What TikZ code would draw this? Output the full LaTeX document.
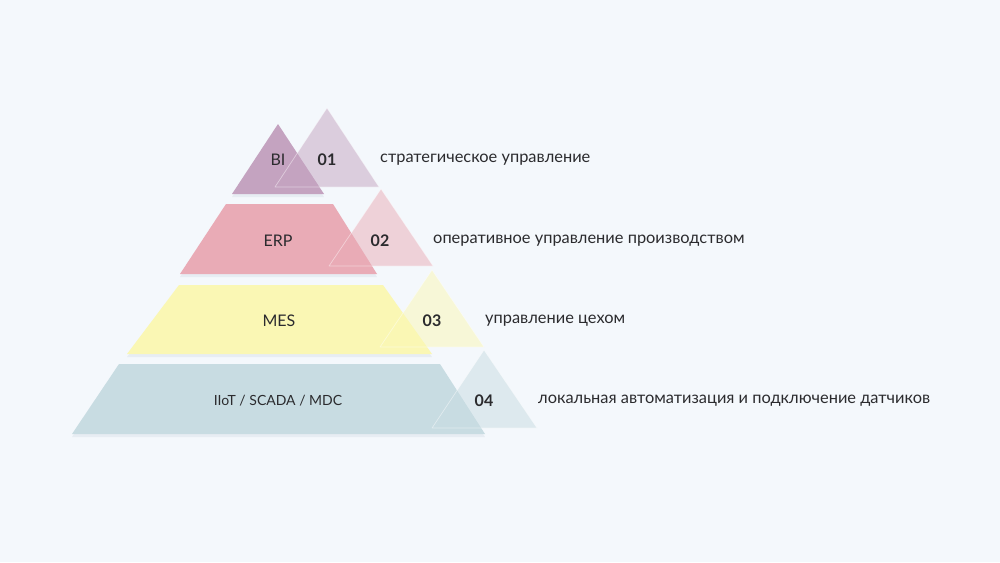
\documentclass[tikz,border=0pt]{standalone}
\usepackage{fontspec}
\setmainfont{Lato}
\usetikzlibrary{shadows}

\definecolor{bgblue}{HTML}{F4F8FC}
\definecolor{txtdark}{HTML}{2B2B2E}
\definecolor{biviolet}{HTML}{C4A3C0}
\definecolor{erppink}{HTML}{E9ABB6}
\definecolor{mesyellow}{HTML}{FAF7B4}
\definecolor{iotblue}{HTML}{C8DCE2}
\definecolor{shadowgrey}{HTML}{8FA0B4}

\begin{document}
\begin{tikzpicture}[
    x=1pt, y=-1pt,
    block/.style = {drop shadow={shadow xshift=0pt, shadow yshift=-3pt, opacity=0.12, fill=shadowgrey}},
    corner/.style = {fill opacity=0.5, draw=white, draw opacity=0.45, line width=0.7pt, line join=round},
    lvl/.style = {text=txtdark, font=\fontsize{16}{18}\selectfont, inner sep=0pt},
    num/.style = {text=txtdark, font=\fontsize{16}{18}\selectfont\bfseries, inner sep=0pt},
    desc/.style = {text=txtdark, font=\fontsize{16.4}{19}\selectfont, inner sep=0pt, anchor=west}
  ]

  % Background
  \fill[bgblue] (0,0) rectangle (1000,562);
  \useasboundingbox (0,0) rectangle (1000,562);

  % Pyramid levels
  \fill[block, biviolet] (278,124) -- (324,194) -- (232,194) -- cycle;
  \fill[block, erppink] (226,204) -- (333,204) -- (377,274) -- (180,274) -- cycle;
  \fill[block, mesyellow] (179,285) -- (383,285) -- (432,354) -- (127,354) -- cycle;
  \fill[block, iotblue] (119,364) -- (440,364) -- (485,434) -- (72,434) -- cycle;

  % Translucent corner triangles on top of the levels
  \filldraw[corner, fill=biviolet] (327,108) -- (379,187) -- (275,187) -- cycle;
  \filldraw[corner, fill=erppink] (381,189) -- (433,266) -- (329,266) -- cycle;
  \filldraw[corner, fill=mesyellow] (432,270) -- (484,347) -- (380,347) -- cycle;
  \filldraw[corner, fill=iotblue] (484,350) -- (537,428) -- (432,428) -- cycle;

  % Level names
  \node[lvl] (bi) at (278,160) {BI};
  \node[lvl] (erp) at (278,241) {ERP};
  \node[lvl] (mes) at (279,321) {MES};
  \node[lvl, font=\fontsize{14}{16}\selectfont] (iot) at (278,401) {IIoT / SCADA / MDC};

  % Numbers
  \node[num] (n01) at (327,160) {01};
  \node[num] (n02) at (380,241) {02};
  \node[num] (n03) at (432,321) {03};
  \node[num] (n04) at (484,401) {04};

  % Descriptions
  \node[desc] (d01) at (380,160) {стратегическое управление};
  \node[desc] (d02) at (433,241) {оперативное управление производством};
  \node[desc] (d03) at (485,321) {управление цехом};
  \node[desc] (d04) at (538,401) {локальная автоматизация и подключение датчиков};

\end{tikzpicture}
\end{document}
